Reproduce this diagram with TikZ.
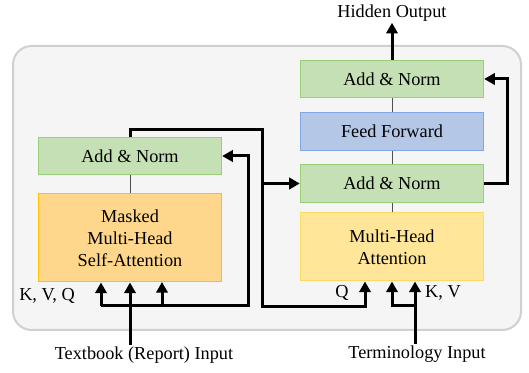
\documentclass[tikz,border=0pt]{standalone}
\usepackage{fontspec}
\setmainfont{Liberation Serif}
\usetikzlibrary{arrows.meta}

\definecolor{bgfill}{RGB}{245,245,245}
\definecolor{bgline}{RGB}{208,208,208}
\definecolor{grnfill}{RGB}{197,224,180}
\definecolor{grnline}{RGB}{151,208,119}
\definecolor{blufill}{RGB}{180,199,231}
\definecolor{bluline}{RGB}{126,166,224}
\definecolor{orgfill}{RGB}{255,215,140}
\definecolor{orgline}{RGB}{255,192,0}
\definecolor{ylwfill}{RGB}{255,230,153}
\definecolor{ylwline}{RGB}{255,217,102}
\definecolor{thinline}{RGB}{80,80,80}

\tikzset{every picture/.style={line width=0.75pt}}
\tikzset{
  blk/.style={draw, inner sep=0pt, align=center, font=\fontsize{13.7}{16.5}\selectfont},
  normbox/.style={blk, fill=grnfill, draw=grnline, minimum width=137.5pt, minimum height=28pt},
  ffbox/.style={blk, fill=blufill, draw=bluline, minimum width=137.5pt, minimum height=28pt},
  lbl/.style={inner sep=0.75pt, font=\fontsize{13.7}{16.5}\selectfont},
  arr/.style={line width=2.25pt, -{Triangle[length=8pt,width=8.5pt]}},
  conn/.style={line width=2.25pt},
  thin/.style={draw=thinline, line width=0.75pt}
}

\begin{document}
\begin{tikzpicture}[x=0.75pt,y=0.75pt,yscale=-1,xscale=1]
\useasboundingbox (0,0) rectangle (529,373);

%Rounded Rect
\draw [draw=bgline, fill=bgfill, line width=1.5pt, rounded corners=14pt] (13,46) rectangle (521,330);

% Left column
\node [normbox] (lan) at (130,156) {Add \& Norm};
\node [blk, fill=orgfill, draw=orgline, minimum width=137.5pt, minimum height=66pt] (msa) at (130,238) {Masked\\Multi-Head\\Self-Attention};

% Right column
\node [normbox] (ran) at (392,79) {Add \& Norm};
\node [ffbox] (ff) at (392,131.5) {Feed Forward};
\node [normbox] (man) at (392,183.5) {Add \& Norm};
\node [blk, fill=ylwfill, draw=ylwline, minimum width=137.5pt, minimum height=51pt] (mha) at (392,247) {Multi-Head\\Attention};

% Text Nodes
\node [lbl] (hid) at (392,13) {Hidden Output};
\node [lbl] (tin) at (144,355) {Textbook (Report) Input};
\node [lbl] (term) at (417,354) {Terminology Input};
\node [lbl] (kvql) at (47,296) {K, V, Q};
\node [lbl] (ql) at (342,293) {Q};
\node [lbl] (kvl) at (443,293) {K, V};

% junctions
\coordinate (lbus) at (101,306);
\coordinate (lres) at (248,306);
\coordinate (cross) at (262,130);
\coordinate (qin) at (365,307);
\coordinate (kv) at (415,306);

% thin links
\draw [thin] (lan.south) -- (msa.north);
\draw [thin] (mha.north) -- (man.south);
\draw [thin] (man.north) -- (ff.south);
\draw [thin] (ff.north) -- (ran.south);

% left input
\draw [arr] (tin.north -| msa.south) -- (msa.south);
\draw [arr] (lbus) -- (lbus |- msa.south);
\draw [arr] (162,306) -- (162,282);
\draw [arr] (lbus) -- (lres) |- (lan.east);

% left output to right column
\draw [arr] (lan.north) |- (cross) |- (qin) -- (qin |- mha.south);
\draw [arr] (cross |- man.west) -- (man.west);

% right input
\draw [arr] (term.north -| kv) -- (kv |- mha.south);
\draw [arr] (kv) -| (mha.south);

% right residual and output
\draw [arr] (man.east) -- ++(23,0) |- (ran.east);
\draw [arr] (ran.north) -- (hid.south);

\end{tikzpicture}
\end{document}
